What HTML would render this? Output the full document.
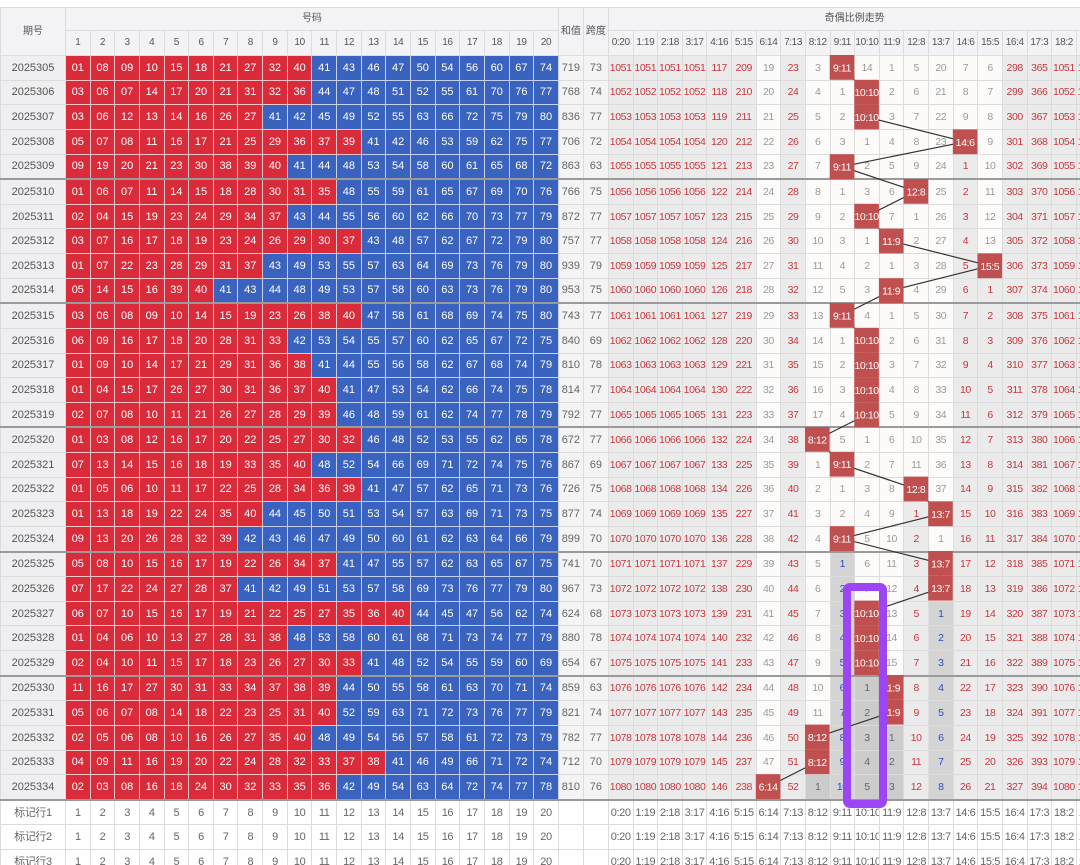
<!DOCTYPE html>
<html><head><meta charset="utf-8">
<style>
html,body{margin:0;padding:0;background:#fff;width:1080px;height:865px;overflow:hidden}
#wrap{position:relative;width:1080px;height:865px;overflow:hidden}
table{position:absolute;left:0;top:7px;border-collapse:collapse;table-layout:fixed;width:1101px;font-family:"Liberation Sans","Noto Sans CJK SC",sans-serif;font-size:11px;text-align:center}
td,th{border:1px solid #dcdcdc;padding:0;height:23.63px;line-height:20px;white-space:nowrap;overflow:hidden;font-weight:normal}
thead td{background:#f3f3f5;color:#555;font-size:10px;height:24px}
thead tr.h1 td{height:22px}
.q{background:#efeff1;color:#555}
.r{background:#d92b3a;color:#fff;border-color:#f2c6c9}
.u{background:#3a63c0;color:#fff;border-color:#c4d0ee}
.s{background:#f4f4f4;color:#666}
.g{background:#ebebeb;color:#c9363c}
.w{background:#fdfbfa;color:#9a9a9a}
.b{background:#d4d4d4;color:#3048c0}
.d{background:#cccccc;color:#666}
.g,.w,.b,.d{font-size:10.5px;letter-spacing:-0.4px}
thead tr:nth-child(2) td{letter-spacing:-0.4px}
.f td{background:#fff;color:#666;letter-spacing:-0.4px}
tr.sep td{border-bottom:2px solid #9a9a9a}
svg{position:absolute;left:0;top:0}
</style></head><body><div id="wrap">
<table>
<colgroup><col style="width:65px"><col span="20" style="width:24.65px"><col style="width:25px"><col style="width:25px"><col span="20" style="width:24.63px"></colgroup>
<thead>
<tr class="h1"><td rowspan="2">期号</td><td colspan="20">号码</td><td rowspan="2">和值</td><td rowspan="2">跨度</td><td colspan="20">奇偶比例走势</td></tr>
<tr><td>1</td><td>2</td><td>3</td><td>4</td><td>5</td><td>6</td><td>7</td><td>8</td><td>9</td><td>10</td><td>11</td><td>12</td><td>13</td><td>14</td><td>15</td><td>16</td><td>17</td><td>18</td><td>19</td><td>20</td><td>0:20</td><td>1:19</td><td>2:18</td><td>3:17</td><td>4:16</td><td>5:15</td><td>6:14</td><td>7:13</td><td>8:12</td><td>9:11</td><td>10:10</td><td>11:9</td><td>12:8</td><td>13:7</td><td>14:6</td><td>15:5</td><td>16:4</td><td>17:3</td><td>18:2</td><td>19:1</td></tr>
</thead>
<tbody>
<tr><td class=q>2025305<td class=r>01<td class=r>08<td class=r>09<td class=r>10<td class=r>15<td class=r>18<td class=r>21<td class=r>27<td class=r>32<td class=r>40<td class=u>41<td class=u>43<td class=u>46<td class=u>47<td class=u>50<td class=u>54<td class=u>56<td class=u>60<td class=u>67<td class=u>74<td class=s>719<td class=s>73<td class=g>1051<td class=g>1051<td class=g>1051<td class=g>1051<td class=g>117<td class=g>209<td class=w>19<td class=g>23<td class=w>3<td class=w><td class=w>14<td class=w>1<td class=w>5<td class=w>20<td class=w>7<td class=w>6<td class=g>298<td class=g>365<td class=g>1051<td class=g>1051</tr>
<tr><td class=q>2025306<td class=r>03<td class=r>06<td class=r>07<td class=r>14<td class=r>17<td class=r>20<td class=r>21<td class=r>31<td class=r>32<td class=r>36<td class=u>44<td class=u>47<td class=u>48<td class=u>51<td class=u>52<td class=u>55<td class=u>61<td class=u>70<td class=u>76<td class=u>77<td class=s>768<td class=s>74<td class=g>1052<td class=g>1052<td class=g>1052<td class=g>1052<td class=g>118<td class=g>210<td class=w>20<td class=g>24<td class=w>4<td class=w>1<td class=w><td class=w>2<td class=w>6<td class=w>21<td class=w>8<td class=w>7<td class=g>299<td class=g>366<td class=g>1052<td class=g>1052</tr>
<tr><td class=q>2025307<td class=r>03<td class=r>06<td class=r>12<td class=r>13<td class=r>14<td class=r>16<td class=r>26<td class=r>27<td class=u>41<td class=u>42<td class=u>45<td class=u>49<td class=u>52<td class=u>55<td class=u>63<td class=u>66<td class=u>72<td class=u>75<td class=u>79<td class=u>80<td class=s>836<td class=s>77<td class=g>1053<td class=g>1053<td class=g>1053<td class=g>1053<td class=g>119<td class=g>211<td class=w>21<td class=g>25<td class=w>5<td class=w>2<td class=w><td class=w>3<td class=w>7<td class=w>22<td class=w>9<td class=w>8<td class=g>300<td class=g>367<td class=g>1053<td class=g>1053</tr>
<tr><td class=q>2025308<td class=r>05<td class=r>07<td class=r>08<td class=r>11<td class=r>16<td class=r>17<td class=r>21<td class=r>25<td class=r>29<td class=r>36<td class=r>37<td class=r>39<td class=u>41<td class=u>42<td class=u>46<td class=u>53<td class=u>59<td class=u>62<td class=u>75<td class=u>77<td class=s>706<td class=s>72<td class=g>1054<td class=g>1054<td class=g>1054<td class=g>1054<td class=g>120<td class=g>212<td class=w>22<td class=g>26<td class=w>6<td class=w>3<td class=w>1<td class=w>4<td class=w>8<td class=w>23<td class=w><td class=w>9<td class=g>301<td class=g>368<td class=g>1054<td class=g>1054</tr>
<tr class=sep><td class=q>2025309<td class=r>09<td class=r>19<td class=r>20<td class=r>21<td class=r>23<td class=r>30<td class=r>38<td class=r>39<td class=r>40<td class=u>41<td class=u>44<td class=u>48<td class=u>53<td class=u>54<td class=u>58<td class=u>60<td class=u>61<td class=u>65<td class=u>68<td class=u>72<td class=s>863<td class=s>63<td class=g>1055<td class=g>1055<td class=g>1055<td class=g>1055<td class=g>121<td class=g>213<td class=w>23<td class=g>27<td class=w>7<td class=w><td class=w>2<td class=w>5<td class=w>9<td class=w>24<td class=g>1<td class=w>10<td class=g>302<td class=g>369<td class=g>1055<td class=g>1055</tr>
<tr><td class=q>2025310<td class=r>01<td class=r>06<td class=r>07<td class=r>11<td class=r>14<td class=r>15<td class=r>18<td class=r>28<td class=r>30<td class=r>31<td class=r>35<td class=u>48<td class=u>55<td class=u>59<td class=u>61<td class=u>65<td class=u>67<td class=u>69<td class=u>70<td class=u>76<td class=s>766<td class=s>75<td class=g>1056<td class=g>1056<td class=g>1056<td class=g>1056<td class=g>122<td class=g>214<td class=w>24<td class=g>28<td class=w>8<td class=w>1<td class=w>3<td class=w>6<td class=w><td class=w>25<td class=g>2<td class=w>11<td class=g>303<td class=g>370<td class=g>1056<td class=g>1056</tr>
<tr><td class=q>2025311<td class=r>02<td class=r>04<td class=r>15<td class=r>19<td class=r>23<td class=r>24<td class=r>29<td class=r>34<td class=r>37<td class=u>43<td class=u>44<td class=u>55<td class=u>56<td class=u>60<td class=u>62<td class=u>66<td class=u>70<td class=u>73<td class=u>77<td class=u>79<td class=s>872<td class=s>77<td class=g>1057<td class=g>1057<td class=g>1057<td class=g>1057<td class=g>123<td class=g>215<td class=w>25<td class=g>29<td class=w>9<td class=w>2<td class=w><td class=w>7<td class=w>1<td class=w>26<td class=g>3<td class=w>12<td class=g>304<td class=g>371<td class=g>1057<td class=g>1057</tr>
<tr><td class=q>2025312<td class=r>03<td class=r>07<td class=r>16<td class=r>17<td class=r>18<td class=r>19<td class=r>23<td class=r>24<td class=r>26<td class=r>29<td class=r>30<td class=r>37<td class=u>43<td class=u>48<td class=u>57<td class=u>62<td class=u>67<td class=u>72<td class=u>79<td class=u>80<td class=s>757<td class=s>77<td class=g>1058<td class=g>1058<td class=g>1058<td class=g>1058<td class=g>124<td class=g>216<td class=w>26<td class=g>30<td class=w>10<td class=w>3<td class=w>1<td class=w><td class=w>2<td class=w>27<td class=g>4<td class=w>13<td class=g>305<td class=g>372<td class=g>1058<td class=g>1058</tr>
<tr><td class=q>2025313<td class=r>01<td class=r>07<td class=r>22<td class=r>23<td class=r>28<td class=r>29<td class=r>31<td class=r>37<td class=u>43<td class=u>49<td class=u>53<td class=u>55<td class=u>57<td class=u>63<td class=u>64<td class=u>69<td class=u>73<td class=u>76<td class=u>79<td class=u>80<td class=s>939<td class=s>79<td class=g>1059<td class=g>1059<td class=g>1059<td class=g>1059<td class=g>125<td class=g>217<td class=w>27<td class=g>31<td class=w>11<td class=w>4<td class=w>2<td class=w>1<td class=w>3<td class=w>28<td class=g>5<td class=w><td class=g>306<td class=g>373<td class=g>1059<td class=g>1059</tr>
<tr class=sep><td class=q>2025314<td class=r>05<td class=r>14<td class=r>15<td class=r>16<td class=r>39<td class=r>40<td class=u>41<td class=u>43<td class=u>44<td class=u>48<td class=u>49<td class=u>53<td class=u>57<td class=u>58<td class=u>60<td class=u>63<td class=u>73<td class=u>76<td class=u>79<td class=u>80<td class=s>953<td class=s>75<td class=g>1060<td class=g>1060<td class=g>1060<td class=g>1060<td class=g>126<td class=g>218<td class=w>28<td class=g>32<td class=w>12<td class=w>5<td class=w>3<td class=w><td class=w>4<td class=w>29<td class=g>6<td class=g>1<td class=g>307<td class=g>374<td class=g>1060<td class=g>1060</tr>
<tr><td class=q>2025315<td class=r>03<td class=r>06<td class=r>08<td class=r>09<td class=r>10<td class=r>14<td class=r>15<td class=r>19<td class=r>23<td class=r>26<td class=r>38<td class=r>40<td class=u>47<td class=u>58<td class=u>61<td class=u>68<td class=u>69<td class=u>74<td class=u>75<td class=u>80<td class=s>743<td class=s>77<td class=g>1061<td class=g>1061<td class=g>1061<td class=g>1061<td class=g>127<td class=g>219<td class=w>29<td class=g>33<td class=w>13<td class=w><td class=w>4<td class=w>1<td class=w>5<td class=w>30<td class=g>7<td class=g>2<td class=g>308<td class=g>375<td class=g>1061<td class=g>1061</tr>
<tr><td class=q>2025316<td class=r>06<td class=r>09<td class=r>16<td class=r>17<td class=r>18<td class=r>20<td class=r>28<td class=r>31<td class=r>33<td class=u>42<td class=u>53<td class=u>54<td class=u>55<td class=u>57<td class=u>60<td class=u>62<td class=u>65<td class=u>67<td class=u>72<td class=u>75<td class=s>840<td class=s>69<td class=g>1062<td class=g>1062<td class=g>1062<td class=g>1062<td class=g>128<td class=g>220<td class=w>30<td class=g>34<td class=w>14<td class=w>1<td class=w><td class=w>2<td class=w>6<td class=w>31<td class=g>8<td class=g>3<td class=g>309<td class=g>376<td class=g>1062<td class=g>1062</tr>
<tr><td class=q>2025317<td class=r>01<td class=r>09<td class=r>10<td class=r>14<td class=r>17<td class=r>21<td class=r>29<td class=r>31<td class=r>36<td class=r>38<td class=u>41<td class=u>44<td class=u>55<td class=u>56<td class=u>58<td class=u>62<td class=u>67<td class=u>68<td class=u>74<td class=u>79<td class=s>810<td class=s>78<td class=g>1063<td class=g>1063<td class=g>1063<td class=g>1063<td class=g>129<td class=g>221<td class=w>31<td class=g>35<td class=w>15<td class=w>2<td class=w><td class=w>3<td class=w>7<td class=w>32<td class=g>9<td class=g>4<td class=g>310<td class=g>377<td class=g>1063<td class=g>1063</tr>
<tr><td class=q>2025318<td class=r>01<td class=r>04<td class=r>15<td class=r>17<td class=r>26<td class=r>27<td class=r>30<td class=r>31<td class=r>36<td class=r>37<td class=r>40<td class=u>41<td class=u>47<td class=u>53<td class=u>54<td class=u>62<td class=u>66<td class=u>74<td class=u>75<td class=u>78<td class=s>814<td class=s>77<td class=g>1064<td class=g>1064<td class=g>1064<td class=g>1064<td class=g>130<td class=g>222<td class=w>32<td class=g>36<td class=w>16<td class=w>3<td class=w><td class=w>4<td class=w>8<td class=w>33<td class=g>10<td class=g>5<td class=g>311<td class=g>378<td class=g>1064<td class=g>1064</tr>
<tr class=sep><td class=q>2025319<td class=r>02<td class=r>07<td class=r>08<td class=r>10<td class=r>11<td class=r>21<td class=r>26<td class=r>27<td class=r>28<td class=r>29<td class=r>39<td class=u>46<td class=u>48<td class=u>59<td class=u>61<td class=u>62<td class=u>74<td class=u>77<td class=u>78<td class=u>79<td class=s>792<td class=s>77<td class=g>1065<td class=g>1065<td class=g>1065<td class=g>1065<td class=g>131<td class=g>223<td class=w>33<td class=g>37<td class=w>17<td class=w>4<td class=w><td class=w>5<td class=w>9<td class=w>34<td class=g>11<td class=g>6<td class=g>312<td class=g>379<td class=g>1065<td class=g>1065</tr>
<tr><td class=q>2025320<td class=r>01<td class=r>03<td class=r>08<td class=r>12<td class=r>16<td class=r>17<td class=r>20<td class=r>22<td class=r>25<td class=r>27<td class=r>30<td class=r>32<td class=u>46<td class=u>48<td class=u>52<td class=u>53<td class=u>55<td class=u>62<td class=u>65<td class=u>78<td class=s>672<td class=s>77<td class=g>1066<td class=g>1066<td class=g>1066<td class=g>1066<td class=g>132<td class=g>224<td class=w>34<td class=g>38<td class=w><td class=w>5<td class=w>1<td class=w>6<td class=w>10<td class=w>35<td class=g>12<td class=g>7<td class=g>313<td class=g>380<td class=g>1066<td class=g>1066</tr>
<tr><td class=q>2025321<td class=r>07<td class=r>13<td class=r>14<td class=r>15<td class=r>16<td class=r>18<td class=r>19<td class=r>33<td class=r>35<td class=r>40<td class=u>48<td class=u>52<td class=u>54<td class=u>66<td class=u>69<td class=u>71<td class=u>72<td class=u>74<td class=u>75<td class=u>76<td class=s>867<td class=s>69<td class=g>1067<td class=g>1067<td class=g>1067<td class=g>1067<td class=g>133<td class=g>225<td class=w>35<td class=g>39<td class=w>1<td class=w><td class=w>2<td class=w>7<td class=w>11<td class=w>36<td class=g>13<td class=g>8<td class=g>314<td class=g>381<td class=g>1067<td class=g>1067</tr>
<tr><td class=q>2025322<td class=r>01<td class=r>05<td class=r>06<td class=r>10<td class=r>11<td class=r>17<td class=r>22<td class=r>25<td class=r>28<td class=r>34<td class=r>36<td class=r>39<td class=u>41<td class=u>47<td class=u>57<td class=u>62<td class=u>65<td class=u>71<td class=u>73<td class=u>76<td class=s>726<td class=s>75<td class=g>1068<td class=g>1068<td class=g>1068<td class=g>1068<td class=g>134<td class=g>226<td class=w>36<td class=g>40<td class=w>2<td class=w>1<td class=w>3<td class=w>8<td class=w><td class=w>37<td class=g>14<td class=g>9<td class=g>315<td class=g>382<td class=g>1068<td class=g>1068</tr>
<tr><td class=q>2025323<td class=r>01<td class=r>13<td class=r>18<td class=r>19<td class=r>22<td class=r>24<td class=r>35<td class=r>40<td class=u>44<td class=u>45<td class=u>50<td class=u>51<td class=u>53<td class=u>54<td class=u>57<td class=u>63<td class=u>69<td class=u>71<td class=u>73<td class=u>75<td class=s>877<td class=s>74<td class=g>1069<td class=g>1069<td class=g>1069<td class=g>1069<td class=g>135<td class=g>227<td class=w>37<td class=g>41<td class=w>3<td class=w>2<td class=w>4<td class=w>9<td class=g>1<td class=w><td class=g>15<td class=g>10<td class=g>316<td class=g>383<td class=g>1069<td class=g>1069</tr>
<tr class=sep><td class=q>2025324<td class=r>09<td class=r>13<td class=r>20<td class=r>26<td class=r>28<td class=r>32<td class=r>39<td class=u>42<td class=u>43<td class=u>46<td class=u>47<td class=u>49<td class=u>50<td class=u>60<td class=u>61<td class=u>62<td class=u>63<td class=u>64<td class=u>66<td class=u>79<td class=s>899<td class=s>70<td class=g>1070<td class=g>1070<td class=g>1070<td class=g>1070<td class=g>136<td class=g>228<td class=w>38<td class=g>42<td class=w>4<td class=w><td class=w>5<td class=w>10<td class=g>2<td class=w>1<td class=g>16<td class=g>11<td class=g>317<td class=g>384<td class=g>1070<td class=g>1070</tr>
<tr><td class=q>2025325<td class=r>05<td class=r>08<td class=r>10<td class=r>15<td class=r>16<td class=r>17<td class=r>19<td class=r>22<td class=r>26<td class=r>34<td class=r>37<td class=u>41<td class=u>47<td class=u>55<td class=u>57<td class=u>62<td class=u>63<td class=u>65<td class=u>67<td class=u>75<td class=s>741<td class=s>70<td class=g>1071<td class=g>1071<td class=g>1071<td class=g>1071<td class=g>137<td class=g>229<td class=w>39<td class=g>43<td class=w>5<td class=b>1<td class=w>6<td class=w>11<td class=g>3<td class=w><td class=g>17<td class=g>12<td class=g>318<td class=g>385<td class=g>1071<td class=g>1071</tr>
<tr><td class=q>2025326<td class=r>07<td class=r>17<td class=r>22<td class=r>24<td class=r>27<td class=r>28<td class=r>37<td class=u>41<td class=u>42<td class=u>49<td class=u>51<td class=u>53<td class=u>57<td class=u>58<td class=u>69<td class=u>73<td class=u>76<td class=u>77<td class=u>79<td class=u>80<td class=s>967<td class=s>73<td class=g>1072<td class=g>1072<td class=g>1072<td class=g>1072<td class=g>138<td class=g>230<td class=w>40<td class=g>44<td class=w>6<td class=b>2<td class=w>7<td class=w>12<td class=g>4<td class=w><td class=g>18<td class=g>13<td class=g>319<td class=g>386<td class=g>1072<td class=g>1072</tr>
<tr><td class=q>2025327<td class=r>06<td class=r>07<td class=r>10<td class=r>15<td class=r>16<td class=r>17<td class=r>19<td class=r>21<td class=r>22<td class=r>25<td class=r>27<td class=r>35<td class=r>36<td class=r>40<td class=u>44<td class=u>45<td class=u>47<td class=u>56<td class=u>62<td class=u>74<td class=s>624<td class=s>68<td class=g>1073<td class=g>1073<td class=g>1073<td class=g>1073<td class=g>139<td class=g>231<td class=w>41<td class=g>45<td class=w>7<td class=b>3<td class=w><td class=w>13<td class=g>5<td class=b>1<td class=g>19<td class=g>14<td class=g>320<td class=g>387<td class=g>1073<td class=g>1073</tr>
<tr><td class=q>2025328<td class=r>01<td class=r>04<td class=r>06<td class=r>10<td class=r>13<td class=r>27<td class=r>28<td class=r>31<td class=r>38<td class=u>48<td class=u>53<td class=u>58<td class=u>60<td class=u>61<td class=u>68<td class=u>71<td class=u>73<td class=u>74<td class=u>77<td class=u>79<td class=s>880<td class=s>78<td class=g>1074<td class=g>1074<td class=g>1074<td class=g>1074<td class=g>140<td class=g>232<td class=w>42<td class=g>46<td class=w>8<td class=b>4<td class=w><td class=w>14<td class=g>6<td class=b>2<td class=g>20<td class=g>15<td class=g>321<td class=g>388<td class=g>1074<td class=g>1074</tr>
<tr class=sep><td class=q>2025329<td class=r>02<td class=r>04<td class=r>10<td class=r>11<td class=r>15<td class=r>17<td class=r>18<td class=r>23<td class=r>26<td class=r>27<td class=r>30<td class=r>33<td class=u>41<td class=u>48<td class=u>52<td class=u>54<td class=u>55<td class=u>59<td class=u>60<td class=u>69<td class=s>654<td class=s>67<td class=g>1075<td class=g>1075<td class=g>1075<td class=g>1075<td class=g>141<td class=g>233<td class=w>43<td class=g>47<td class=w>9<td class=b>5<td class=w><td class=w>15<td class=g>7<td class=b>3<td class=g>21<td class=g>16<td class=g>322<td class=g>389<td class=g>1075<td class=g>1075</tr>
<tr><td class=q>2025330<td class=r>11<td class=r>16<td class=r>17<td class=r>27<td class=r>30<td class=r>31<td class=r>33<td class=r>34<td class=r>37<td class=r>38<td class=r>39<td class=u>44<td class=u>50<td class=u>55<td class=u>58<td class=u>61<td class=u>63<td class=u>70<td class=u>71<td class=u>74<td class=s>859<td class=s>63<td class=g>1076<td class=g>1076<td class=g>1076<td class=g>1076<td class=g>142<td class=g>234<td class=w>44<td class=g>48<td class=w>10<td class=b>6<td class=d>1<td class=w><td class=g>8<td class=b>4<td class=g>22<td class=g>17<td class=g>323<td class=g>390<td class=g>1076<td class=g>1076</tr>
<tr><td class=q>2025331<td class=r>05<td class=r>06<td class=r>07<td class=r>08<td class=r>14<td class=r>18<td class=r>22<td class=r>23<td class=r>25<td class=r>31<td class=r>40<td class=u>52<td class=u>59<td class=u>63<td class=u>71<td class=u>72<td class=u>73<td class=u>76<td class=u>77<td class=u>79<td class=s>821<td class=s>74<td class=g>1077<td class=g>1077<td class=g>1077<td class=g>1077<td class=g>143<td class=g>235<td class=w>45<td class=g>49<td class=w>11<td class=b>7<td class=d>2<td class=w><td class=g>9<td class=b>5<td class=g>23<td class=g>18<td class=g>324<td class=g>391<td class=g>1077<td class=g>1077</tr>
<tr><td class=q>2025332<td class=r>02<td class=r>05<td class=r>06<td class=r>08<td class=r>10<td class=r>16<td class=r>26<td class=r>27<td class=r>35<td class=r>40<td class=u>48<td class=u>49<td class=u>54<td class=u>56<td class=u>57<td class=u>58<td class=u>61<td class=u>72<td class=u>73<td class=u>79<td class=s>782<td class=s>77<td class=g>1078<td class=g>1078<td class=g>1078<td class=g>1078<td class=g>144<td class=g>236<td class=w>46<td class=g>50<td class=w><td class=b>8<td class=d>3<td class=d>1<td class=g>10<td class=b>6<td class=g>24<td class=g>19<td class=g>325<td class=g>392<td class=g>1078<td class=g>1078</tr>
<tr><td class=q>2025333<td class=r>04<td class=r>09<td class=r>11<td class=r>16<td class=r>19<td class=r>20<td class=r>22<td class=r>24<td class=r>28<td class=r>32<td class=r>33<td class=r>37<td class=r>38<td class=u>41<td class=u>46<td class=u>49<td class=u>66<td class=u>71<td class=u>72<td class=u>74<td class=s>712<td class=s>70<td class=g>1079<td class=g>1079<td class=g>1079<td class=g>1079<td class=g>145<td class=g>237<td class=w>47<td class=g>51<td class=w><td class=b>9<td class=d>4<td class=d>2<td class=g>11<td class=b>7<td class=g>25<td class=g>20<td class=g>326<td class=g>393<td class=g>1079<td class=g>1079</tr>
<tr class=sep><td class=q>2025334<td class=r>02<td class=r>03<td class=r>08<td class=r>16<td class=r>18<td class=r>24<td class=r>30<td class=r>32<td class=r>33<td class=r>35<td class=r>36<td class=u>42<td class=u>49<td class=u>54<td class=u>63<td class=u>64<td class=u>72<td class=u>74<td class=u>77<td class=u>78<td class=s>810<td class=s>76<td class=g>1080<td class=g>1080<td class=g>1080<td class=g>1080<td class=g>146<td class=g>238<td class=w><td class=g>52<td class=d>1<td class=b>10<td class=d>5<td class=d>3<td class=g>12<td class=b>8<td class=g>26<td class=g>21<td class=g>327<td class=g>394<td class=g>1080<td class=g>1080</tr>
<tr class=f><td>标记行1<td>1<td>2<td>3<td>4<td>5<td>6<td>7<td>8<td>9<td>10<td>11<td>12<td>13<td>14<td>15<td>16<td>17<td>18<td>19<td>20<td><td><td>0:20<td>1:19<td>2:18<td>3:17<td>4:16<td>5:15<td>6:14<td>7:13<td>8:12<td>9:11<td>10:10<td>11:9<td>12:8<td>13:7<td>14:6<td>15:5<td>16:4<td>17:3<td>18:2<td>19:1</tr>
<tr class=f><td>标记行2<td>1<td>2<td>3<td>4<td>5<td>6<td>7<td>8<td>9<td>10<td>11<td>12<td>13<td>14<td>15<td>16<td>17<td>18<td>19<td>20<td><td><td>0:20<td>1:19<td>2:18<td>3:17<td>4:16<td>5:15<td>6:14<td>7:13<td>8:12<td>9:11<td>10:10<td>11:9<td>12:8<td>13:7<td>14:6<td>15:5<td>16:4<td>17:3<td>18:2<td>19:1</tr>
<tr class=f><td>标记行3<td>1<td>2<td>3<td>4<td>5<td>6<td>7<td>8<td>9<td>10<td>11<td>12<td>13<td>14<td>15<td>16<td>17<td>18<td>19<td>20<td><td><td>0:20<td>1:19<td>2:18<td>3:17<td>4:16<td>5:15<td>6:14<td>7:13<td>8:12<td>9:11<td>10:10<td>11:9<td>12:8<td>13:7<td>14:6<td>15:5<td>16:4<td>17:3<td>18:2<td>19:1</tr>
</tbody></table>
<svg width="1080" height="865" viewBox="0 0 1080 865" font-family="Liberation Sans, sans-serif" font-size="10.5" letter-spacing="-0.4">
<polyline fill="none" stroke="#333" stroke-width="1.2" points="842,67.4 866.6,92.2 866.6,117 965.1,141.8 842,166.6 915.9,191.4 866.6,216.2 891.2,241 989.8,265.8 891.2,290.6 842,315.4 866.6,340.2 866.6,365 866.6,389.8 866.6,414.6 817.3,439.4 842,464.2 915.9,489 940.5,513.8 842,538.6 940.5,563.4 940.5,588.2 866.6,613 866.6,637.8 866.6,662.6 891.2,687.4 891.2,712.2 817.3,737 817.3,761.8 768.1,786.6"/>
<g fill="#c0504f">
<rect x="829.7" y="55" width="24.6" height="24.8"/>
<rect x="854.3" y="79.8" width="24.6" height="24.8"/>
<rect x="854.3" y="104.6" width="24.6" height="24.8"/>
<rect x="952.8" y="129.4" width="24.6" height="24.8"/>
<rect x="829.7" y="154.2" width="24.6" height="24.8"/>
<rect x="903.6" y="179" width="24.6" height="24.8"/>
<rect x="854.3" y="203.8" width="24.6" height="24.8"/>
<rect x="878.9" y="228.6" width="24.6" height="24.8"/>
<rect x="977.5" y="253.4" width="24.6" height="24.8"/>
<rect x="878.9" y="278.2" width="24.6" height="24.8"/>
<rect x="829.7" y="303" width="24.6" height="24.8"/>
<rect x="854.3" y="327.8" width="24.6" height="24.8"/>
<rect x="854.3" y="352.6" width="24.6" height="24.8"/>
<rect x="854.3" y="377.4" width="24.6" height="24.8"/>
<rect x="854.3" y="402.2" width="24.6" height="24.8"/>
<rect x="805" y="427" width="24.6" height="24.8"/>
<rect x="829.7" y="451.8" width="24.6" height="24.8"/>
<rect x="903.6" y="476.6" width="24.6" height="24.8"/>
<rect x="928.2" y="501.4" width="24.6" height="24.8"/>
<rect x="829.7" y="526.2" width="24.6" height="24.8"/>
<rect x="928.2" y="551" width="24.6" height="24.8"/>
<rect x="928.2" y="575.8" width="24.6" height="24.8"/>
<rect x="854.3" y="600.6" width="24.6" height="24.8"/>
<rect x="854.3" y="625.4" width="24.6" height="24.8"/>
<rect x="854.3" y="650.2" width="24.6" height="24.8"/>
<rect x="878.9" y="675" width="24.6" height="24.8"/>
<rect x="878.9" y="699.8" width="24.6" height="24.8"/>
<rect x="805" y="724.6" width="24.6" height="24.8"/>
<rect x="805" y="749.4" width="24.6" height="24.8"/>
<rect x="755.8" y="774.2" width="24.6" height="24.8"/>
</g>
<g fill="#fff" text-anchor="middle">
<text x="842" y="71.4">9:11</text>
<text x="866.6" y="96.2">10:10</text>
<text x="866.6" y="121">10:10</text>
<text x="965.1" y="145.8">14:6</text>
<text x="842" y="170.6">9:11</text>
<text x="915.9" y="195.4">12:8</text>
<text x="866.6" y="220.2">10:10</text>
<text x="891.2" y="245">11:9</text>
<text x="989.8" y="269.8">15:5</text>
<text x="891.2" y="294.6">11:9</text>
<text x="842" y="319.4">9:11</text>
<text x="866.6" y="344.2">10:10</text>
<text x="866.6" y="369">10:10</text>
<text x="866.6" y="393.8">10:10</text>
<text x="866.6" y="418.6">10:10</text>
<text x="817.3" y="443.4">8:12</text>
<text x="842" y="468.2">9:11</text>
<text x="915.9" y="493">12:8</text>
<text x="940.5" y="517.8">13:7</text>
<text x="842" y="542.6">9:11</text>
<text x="940.5" y="567.4">13:7</text>
<text x="940.5" y="592.2">13:7</text>
<text x="866.6" y="617">10:10</text>
<text x="866.6" y="641.8">10:10</text>
<text x="866.6" y="666.6">10:10</text>
<text x="891.2" y="691.4">11:9</text>
<text x="891.2" y="716.2">11:9</text>
<text x="817.3" y="741">8:12</text>
<text x="817.3" y="765.8">8:12</text>
<text x="768.1" y="790.6">6:14</text>
</g>
<rect x="847" y="587" width="36" height="217" rx="3" fill="none" stroke="#9b45f5" stroke-width="8"/>
</svg>
</div></body></html>
